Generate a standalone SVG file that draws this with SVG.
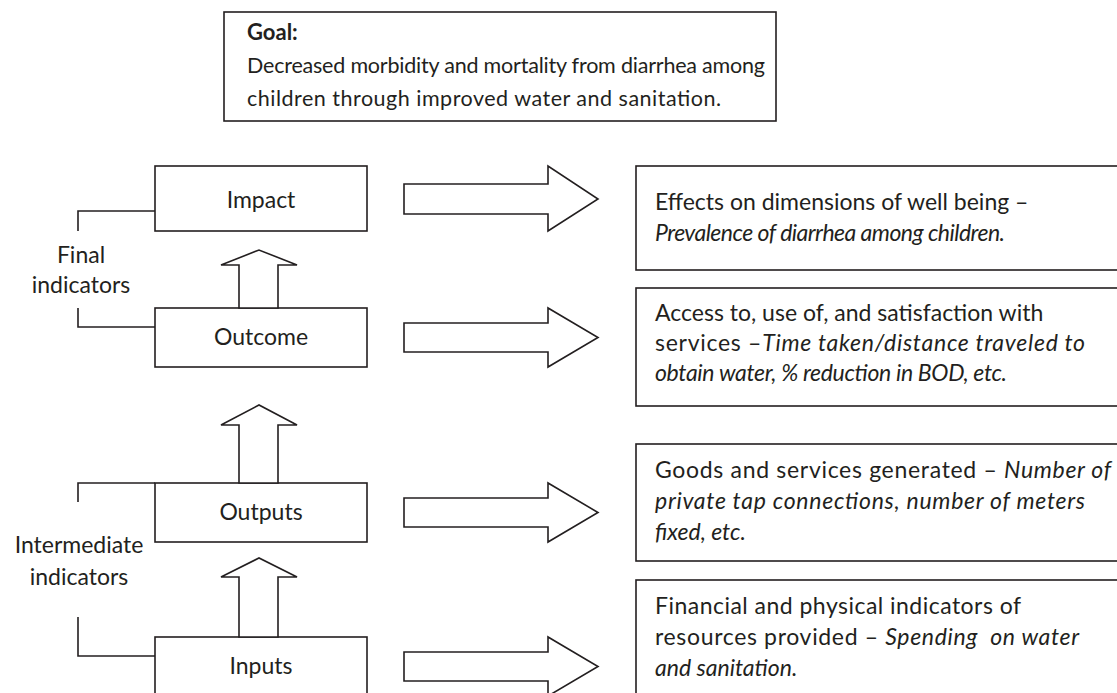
<svg xmlns="http://www.w3.org/2000/svg" width="1117" height="693" viewBox="0 0 1117 693">
<style>
  .box { fill: #ffffff; stroke: #231f20; stroke-width: 1.6; }
  .arrow { fill: #ffffff; stroke: #231f20; stroke-width: 1.6; stroke-linejoin: miter; }
  .line { fill: none; stroke: #231f20; stroke-width: 1.6; }
  text { font-family: Lato, "Open Sans", sans-serif; font-size: 23px; fill: #231f20; }
  .g { font-size: 21.5px; }
  .c { text-anchor: middle; }
  .i { font-style: italic; }
  .b { font-weight: bold; font-size: 22px; }
</style>
<rect width="1117" height="693" fill="#ffffff"/>

<g id="goal">
  <rect class="box" x="224" y="12" width="552" height="109"/>
  <text x="247" y="40" class="b">Goal:</text>
  <text x="247" y="73" class="g" textLength="518">Decreased morbidity and mortality from diarrhea among</text>
  <text x="247" y="106" class="g" textLength="474">children through improved water and sanitation.</text>
</g>

<g id="impact">
  <rect class="box" x="155" y="166" width="212" height="65"/>
  <text x="261" y="208" class="c">Impact</text>
</g>
<g id="outcome">
  <rect class="box" x="155" y="308" width="212" height="59"/>
  <text x="261" y="345" class="c">Outcome</text>
</g>
<g id="outputs">
  <rect class="box" x="155" y="483" width="212" height="59"/>
  <text x="261" y="520" class="c">Outputs</text>
</g>
<g id="inputs">
  <rect class="box" x="155" y="637" width="212" height="70"/>
  <text x="261" y="674" class="c">Inputs</text>
</g>

<g id="final-indicators">
  <text x="81" y="263" class="c">Final</text>
  <text x="81" y="293" class="c">indicators</text>
</g>
<g id="intermediate-indicators">
  <text x="79" y="553" class="c">Intermediate</text>
  <text x="79" y="585" class="c">indicators</text>
</g>

<g id="effects">
  <rect class="box" x="636" y="166" width="500" height="104"/>
  <text x="655" y="210">Effects on dimensions of well being –</text>
  <text x="655" y="241" class="i" textLength="350">Prevalence of diarrhea among children.</text>
</g>
<g id="access">
  <rect class="box" x="636" y="288" width="500" height="118"/>
  <text x="655" y="321">Access to, use of, and satisfaction with</text>
  <text x="655" y="351" textLength="430">services –<tspan class="i">Time taken/distance traveled to</tspan></text>
  <text x="655" y="381" class="i" textLength="352">obtain water, % reduction in BOD, etc.</text>
</g>
<g id="goods">
  <rect class="box" x="636" y="444" width="500" height="117"/>
  <text x="655" y="478" textLength="456">Goods and services generated – <tspan class="i">Number of</tspan></text>
  <text x="655" y="509" class="i" textLength="430">private tap connections, number of meters</text>
  <text x="655" y="540" class="i">fixed, etc.</text>
</g>
<g id="financial">
  <rect class="box" x="636" y="580" width="500" height="130"/>
  <text x="655" y="614" textLength="366">Financial and physical indicators of</text>
  <text x="655" y="645" textLength="424" xml:space="preserve">resources provided – <tspan class="i">Spending  on water</tspan></text>
  <text x="655" y="676" class="i">and sanitation.</text>
</g>

<g id="connectors">
  <path class="line" d="M78,231 V211 H155"/>
  <path class="line" d="M78,308 V327 H155"/>
  <path class="line" d="M78,502 V483 H155"/>
  <path class="line" d="M78,617 V656 H155"/>

  <polygon class="arrow" points="239,308 239,265 221,265 259,250 297,265 278,265 278,308"/>
  <polygon class="arrow" points="239,483 239,425 221,425 259,405 297,425 278,425 278,483"/>
  <polygon class="arrow" points="239,637 239,577 221,577 259,558 297,577 278,577 278,637"/>

  <polygon class="arrow" points="404,184 548,184 548,166 598,199 548,231 548,214 404,214"/>
  <polygon class="arrow" points="404,323 548,323 548,308 598,337.5 548,367 548,352 404,352"/>
  <polygon class="arrow" points="404,498 548,498 548,483 598,512.5 548,542 548,527 404,527"/>
  <polygon class="arrow" points="404,652 548,652 548,637 598,666.5 548,696 548,681 404,681"/>
</g>
</svg>
